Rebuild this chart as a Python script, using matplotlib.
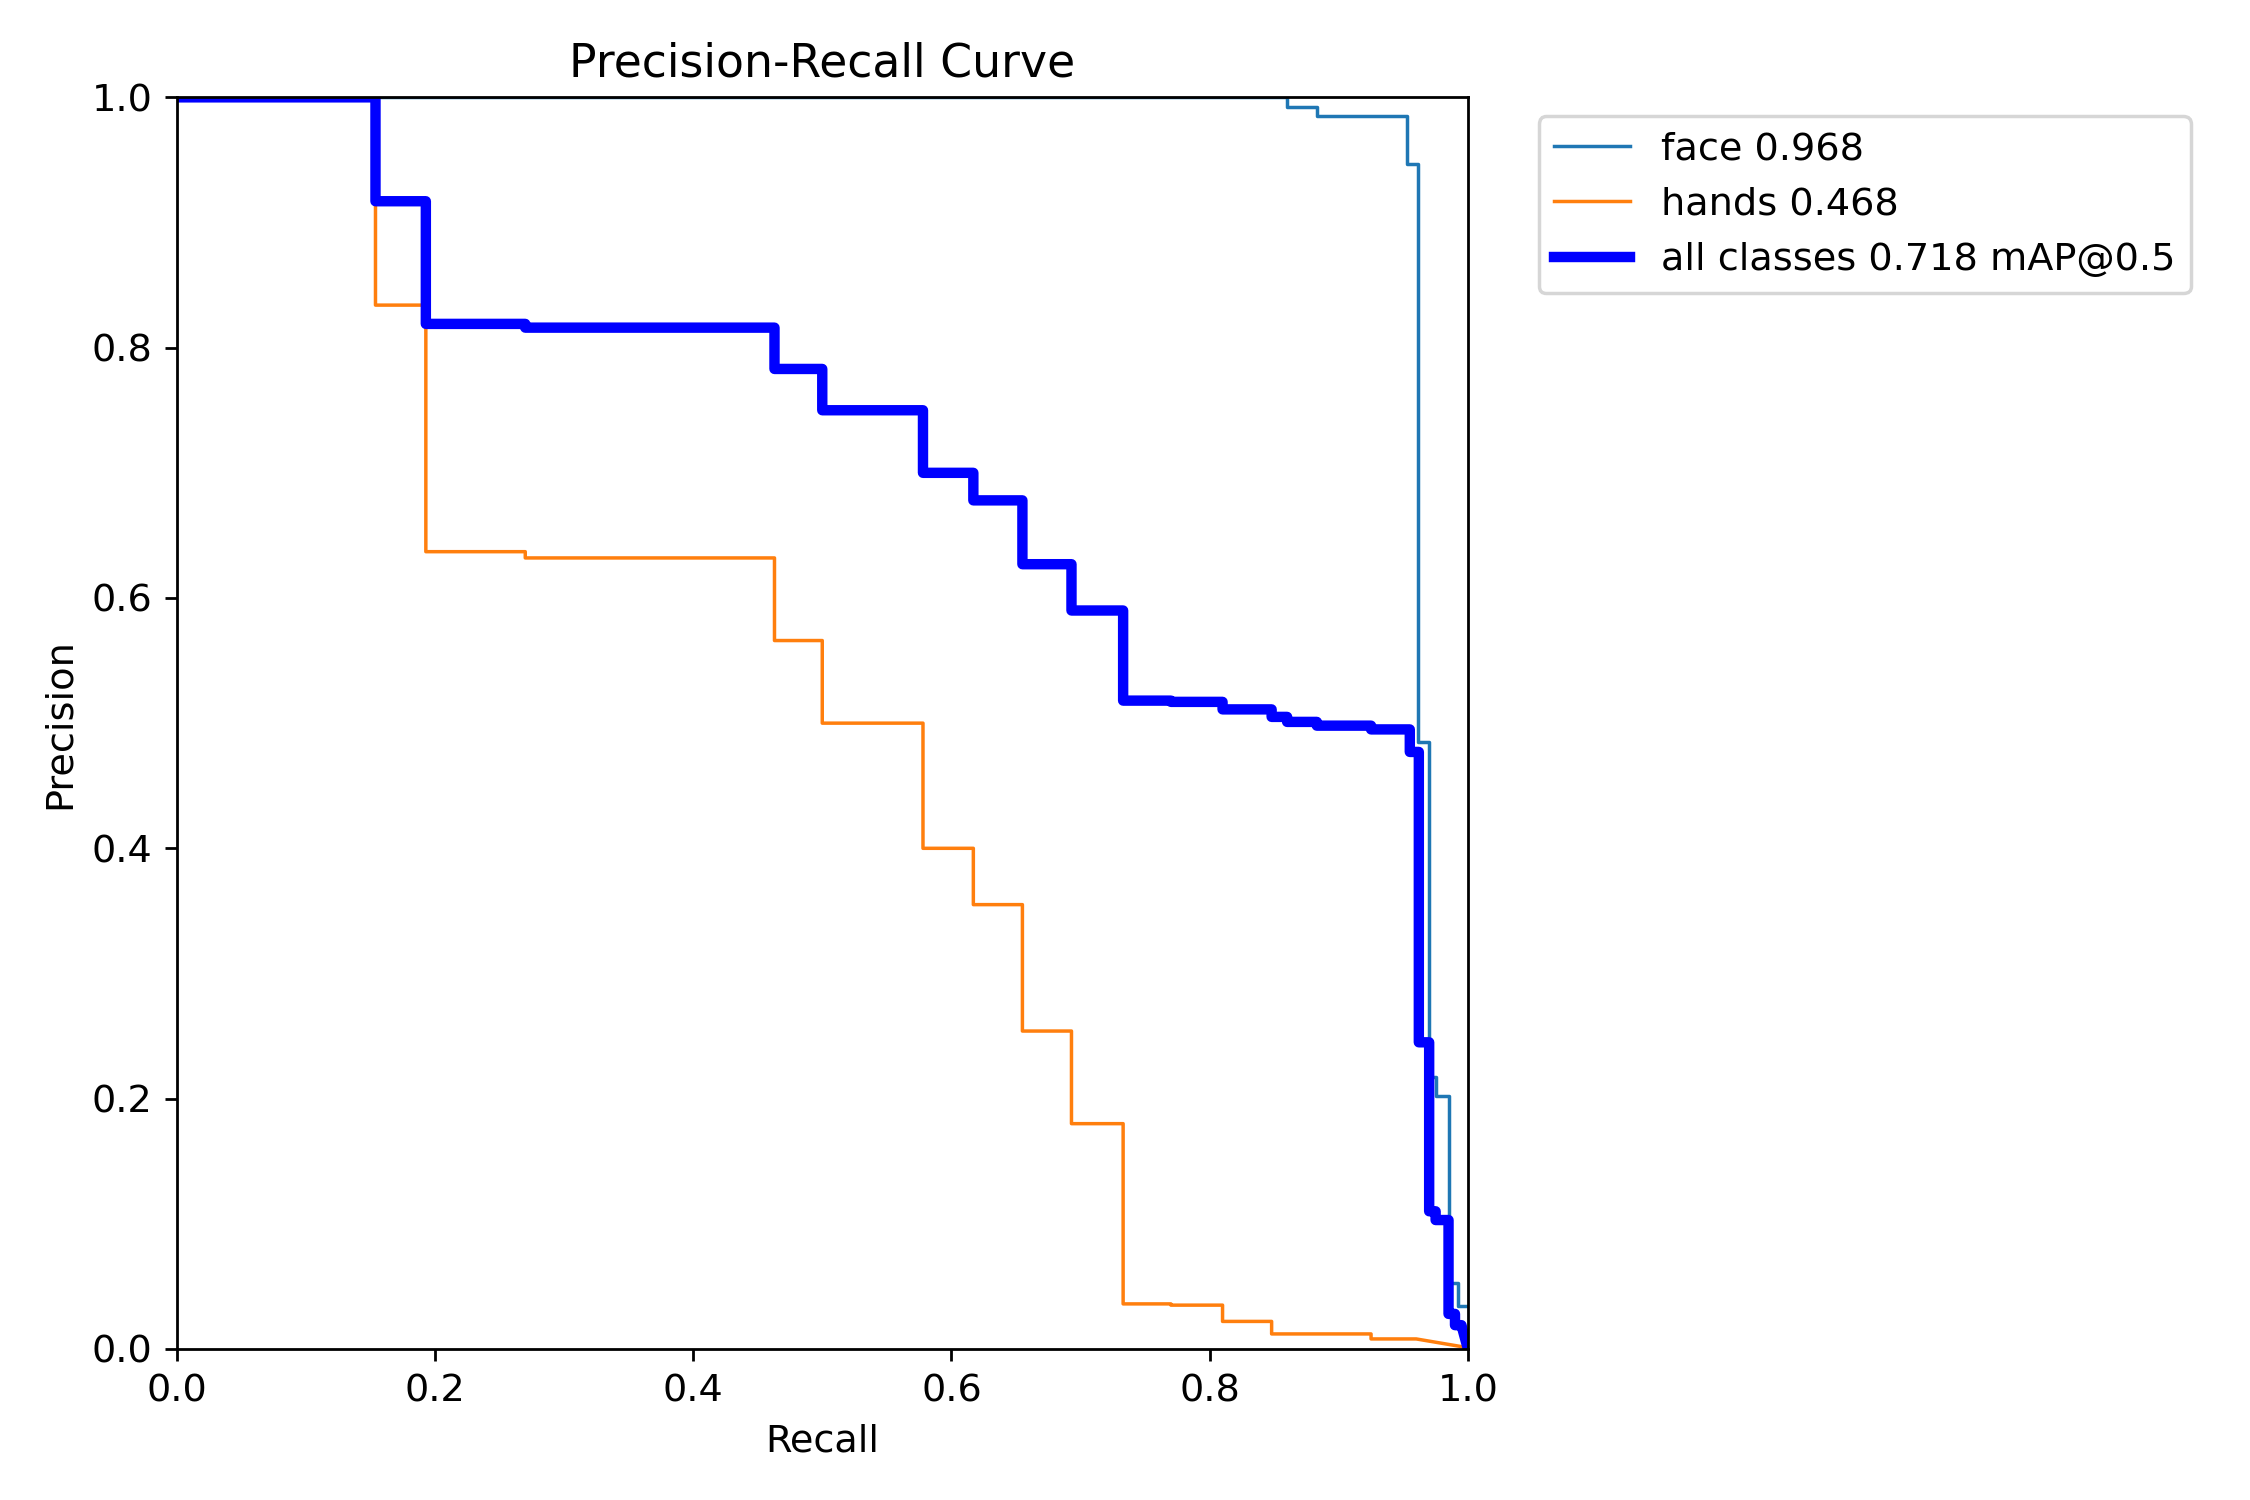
import numpy as np
import matplotlib
matplotlib.use("Agg")
import matplotlib.pyplot as plt

# step curves: precision[i] holds from recall_edges[i] to recall_edges[i+1]
face_edges = [0.0, 0.860, 0.883, 0.953, 0.961, 0.970, 0.975, 0.985, 0.992, 1.0]
face_prec = [1.0, 0.992, 0.985, 0.947, 0.485, 0.217, 0.202, 0.053, 0.034]

hands_edges = [0.0, 0.154, 0.193, 0.270, 0.463, 0.500, 0.578, 0.617, 0.655, 0.693,
               0.733, 0.770, 0.810, 0.848, 0.925, 0.960]
hands_prec = [1.0, 0.834, 0.637, 0.632, 0.566, 0.500, 0.400, 0.355, 0.254, 0.180,
              0.036, 0.035, 0.022, 0.012, 0.008]
hands_end = 0.001

all_edges = [0.0, 0.154, 0.193, 0.270, 0.463, 0.500, 0.578, 0.617, 0.655, 0.693,
             0.733, 0.770, 0.810, 0.848, 0.860, 0.883, 0.925, 0.955, 0.962, 0.970,
             0.975, 0.985, 0.990, 0.995]
all_prec = [1.0, 0.917, 0.819, 0.816, 0.783, 0.750, 0.700, 0.678, 0.627, 0.590,
            0.518, 0.517, 0.511, 0.505, 0.501, 0.498, 0.495, 0.477, 0.245, 0.110,
            0.103, 0.028, 0.019]
all_end = 0.0

labels = ["face 0.968", "hands 0.468", "all classes 0.718 mAP@0.5"]

plt.rcParams['font.size'] = 11


def steps(edges, prec, end=None):
    xs, ys = [], []
    for i, p in enumerate(prec):
        xs += [edges[i], edges[i + 1]]
        ys += [p, p]
    if end is not None:
        xs.append(1.0)
        ys.append(end)
    return np.array(xs), np.array(ys)


fig = plt.figure(figsize=(9, 6))
ax = fig.add_axes([0.0785, 0.1007, 0.5739, 0.8344])

x, y = steps(face_edges, face_prec)
ax.plot(x, y, linewidth=1, label=labels[0])
x, y = steps(hands_edges, hands_prec, hands_end)
ax.plot(x, y, linewidth=1, label=labels[1])
x, y = steps(all_edges, all_prec, all_end)
ax.plot(x, y, linewidth=3, color='blue', label=labels[2])

ax.set_xlabel('Recall')
ax.set_ylabel('Precision')
ax.set_xlim(0, 1)
ax.set_ylim(0, 1)
ax.set_title('Precision-Recall Curve')
ax.legend(bbox_to_anchor=(1.04, 1), loc="upper left")

fig.savefig('out.png', dpi=250)
